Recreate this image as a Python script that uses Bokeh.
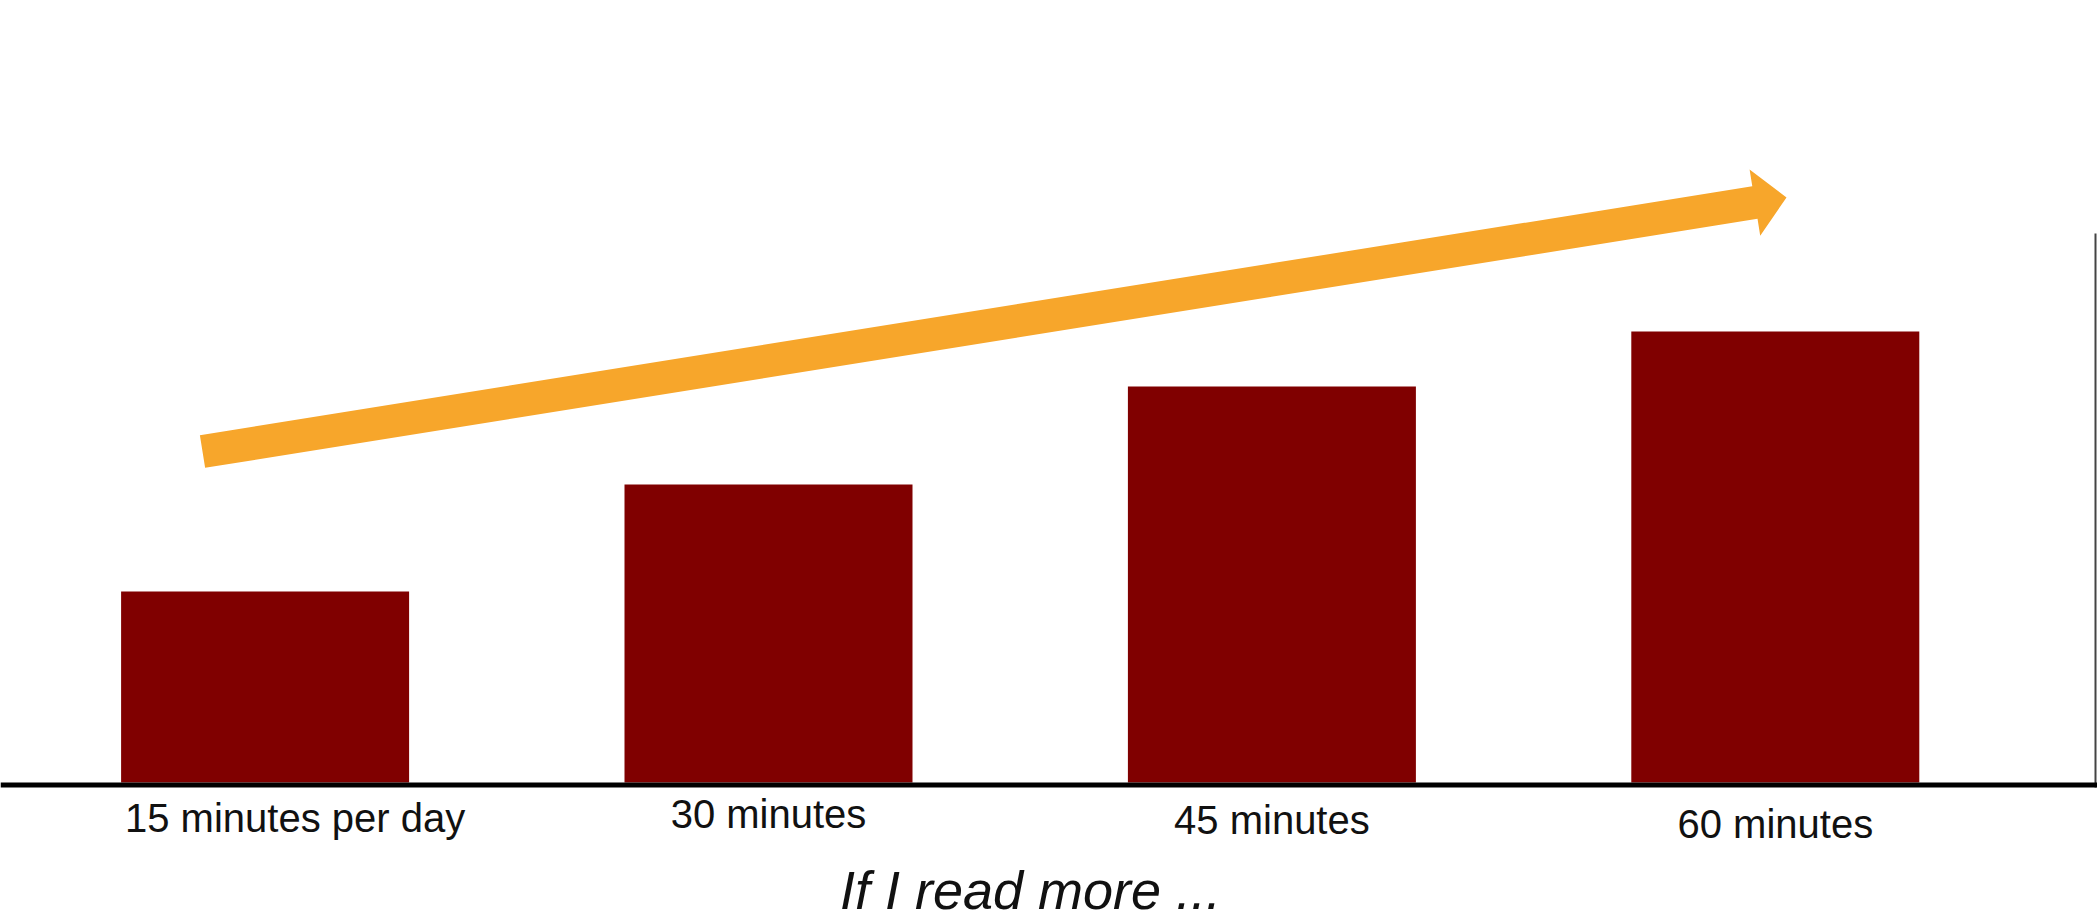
import numpy as np
from bokeh.plotting import figure
from bokeh.models import Range1d, Span, ColumnDataSource
from bokeh.core.properties import value
from bokeh.embed import file_html
from bokeh.resources import INLINE

# ---- data ----
categories = ["15 minutes per day", "30 minutes", "45 minutes", "60 minutes"]
values = [19.1, 29.8, 39.6, 45.1]
title_text = "If I read more ..."

# ---- layout / style (pixels of the reference picture) ----
W, H = 2097, 919
BAR0_PX, BAR_STEP_PX, BAR_W_PX = 264.6, 503.4, 288
BASE_PX, PX_PER_UNIT_Y = 782.0, 10.0
label_dx = [30, 0, 0, 0]
label_dy = [0, -4, 2, 6]


def px(X):
    return (X - BAR0_PX) / BAR_STEP_PX


def py(Y):
    return (BASE_PX - Y) / PX_PER_UNIT_Y


x_start = px(0)
x_end = x_start + W / BAR_STEP_PX
y_end = py(0)
y_start = y_end - H / PX_PER_UNIT_Y

p = figure(width=W, height=H, output_backend="svg", toolbar_location=None,
           x_range=Range1d(x_start, x_end), y_range=Range1d(y_start, y_end),
           min_border=0, background_fill_color="white", border_fill_color="white")
p.outline_line_color = None
p.xaxis.visible = False
p.yaxis.visible = False
p.xgrid.visible = False
p.ygrid.visible = False

idx = list(range(len(categories)))
src = ColumnDataSource(dict(x=idx, top=values, cat=categories, dx=label_dx, dy=label_dy))

# bars
p.vbar(x="x", top="top", bottom=0, width=BAR_W_PX / BAR_STEP_PX, source=src,
       fill_color="#800000", line_color=None)

# baseline
p.add_layout(Span(location=py(784.5), dimension="width", line_color="black", line_width=5))

# right edge line
p.segment(x0=[px(2095)], y0=[py(233)], x1=[px(2095)], y1=[py(787)],
          line_color="#444444", line_width=2)

# arrow (picture-pixel geometry -> data)
T = np.array([202.0, 451.0])
Hd = np.array([1786.0, 197.0])
d = Hd - T
u = d / np.linalg.norm(d)
n = np.array([-u[1], u[0]])
shaft_hw, head_hw, head_len = 16.5, 33.5, 32.0
B = Hd - head_len * u
pts = [T + shaft_hw * n, B + shaft_hw * n, B + head_hw * n, Hd,
       B - head_hw * n, B - shaft_hw * n, T - shaft_hw * n]
p.patch([px(q[0]) for q in pts], [py(q[1]) for q in pts],
        fill_color="#F7A62B", line_color=None)

# category labels
p.text(x="x", y=py(817), text="cat", source=src, x_offset="dx", y_offset="dy",
       text_font=value("Liberation Sans"), text_font_size="40px",
       text_align="center", text_baseline="alphabetic", text_color="#111111")

# caption below
p.text(x=[px(1030)], y=[py(889)], text=[title_text],
       text_font=value("Liberation Sans"), text_font_size="54px", text_font_style="italic",
       text_align="center", text_baseline="alphabetic", text_color="#111111")

open("out.html", "w").write(file_html(p, INLINE))
